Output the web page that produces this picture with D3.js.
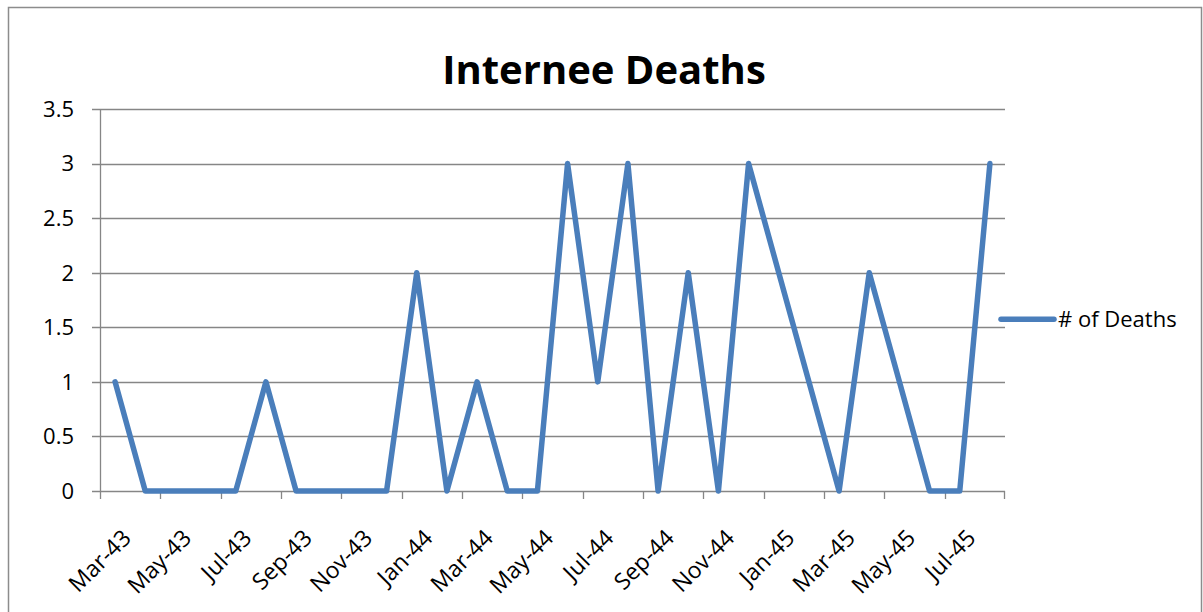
<!DOCTYPE html>
<html>
<head>
<meta charset="utf-8">
<script src="https://cdn.jsdelivr.net/npm/d3@7"></script>
<style>
  body { margin: 0; background: #fff; }
  svg { display: block; font-family: "Open Sans", "Noto Sans", sans-serif; }
</style>
</head>
<body>
<script>
// months on the date axis, one point per month
var months = ["Mar-43","Apr-43","May-43","Jun-43","Jul-43","Aug-43","Sep-43","Oct-43","Nov-43","Dec-43",
              "Jan-44","Feb-44","Mar-44","Apr-44","May-44","Jun-44","Jul-44","Aug-44","Sep-44","Oct-44",
              "Nov-44","Dec-44","Jan-45","Feb-45","Mar-45","Apr-45","May-45","Jun-45","Jul-45","Aug-45"];
var deaths = [1,0,0,0,0,1,0,0,0,0,
              2,0,1,0,0,3,1,3,0,2,
              0,3,2,1,0,2,1,0,0,3];
var yTicks = [0, 0.5, 1, 1.5, 2, 2.5, 3, 3.5];
var seriesName = "# of Deaths";
var chartTitle = "Internee Deaths";

var svg_width = 1203, svg_height = 612;
var svg = d3.select("body").append("svg").attr("width", svg_width).attr("height", svg_height);

// outer chart border
svg.append("rect")
    .attr("x", 8.5).attr("y", 7.5)
    .attr("width", 1193).attr("height", 620)
    .attr("fill", "none").attr("stroke", "#8c8c8c").attr("stroke-width", 1.5);

var plotLeft = 100, plotRight = 1005, plotTop = 109, plotBottom = 491;

var x = d3.scaleBand().domain(months).range([plotLeft, plotRight]).padding(0);
var y = d3.scaleLinear().domain([0, 3.5]).range([plotBottom, plotTop]);

// horizontal gridlines
svg.append("g").selectAll("line")
    .data(yTicks).enter().append("line")
    .attr("x1", plotLeft - 8).attr("x2", plotRight)
    .attr("y1", function(d) { return Math.round(y(d)) + 0.5; })
    .attr("y2", function(d) { return Math.round(y(d)) + 0.5; })
    .attr("stroke", "#868686").attr("stroke-width", 1.3);

// y axis line
svg.append("line")
    .attr("x1", plotLeft + 0.5).attr("x2", plotLeft + 0.5)
    .attr("y1", plotTop).attr("y2", plotBottom)
    .attr("stroke", "#868686").attr("stroke-width", 1.3);

svg.append("g").selectAll("text")
    .data(yTicks).enter().append("text")
    .attr("x", plotLeft - 26)
    .attr("y", function(d) { return y(d); })
    .attr("dy", "0.36em")
    .attr("text-anchor", "end")
    .attr("font-size", 22)
    .attr("fill", "#000")
    .text(function(d) { return d; });

// x axis ticks every two months plus end tick
var tickMonths = months.filter(function(m, i) { return i % 2 == 0; });
svg.append("g").selectAll("line")
    .data(tickMonths).enter().append("line")
    .attr("x1", function(d) { return Math.round(x(d)) + 0.5; })
    .attr("x2", function(d) { return Math.round(x(d)) + 0.5; })
    .attr("y1", plotBottom).attr("y2", plotBottom + 8)
    .attr("stroke", "#868686").attr("stroke-width", 1.3);
svg.append("line")
    .attr("x1", plotRight - 0.5).attr("x2", plotRight - 0.5)
    .attr("y1", plotBottom).attr("y2", plotBottom + 8)
    .attr("stroke", "#868686").attr("stroke-width", 1.3);

svg.append("g").selectAll("text")
    .data(tickMonths).enter().append("text")
    .attr("transform", function(d) {
        return "translate(" + (x(d) + x.bandwidth() / 2 + 6) + "," + (plotBottom + 37) + ") rotate(-45)";
    })
    .attr("text-anchor", "end")
    .attr("dy", "0.7em")
    .attr("font-size", 23)
    .attr("fill", "#000")
    .text(function(d) { return d; });

// the series line
var line = d3.line()
    .x(function(d, i) { return x(months[i]) + x.bandwidth() / 2; })
    .y(function(d) { return y(d); });

svg.append("path")
    .datum(deaths)
    .attr("fill", "none")
    .attr("stroke", "#4a7ebb")
    .attr("stroke-width", 5.5)
    .attr("stroke-linejoin", "round")
    .attr("stroke-linecap", "round")
    .attr("d", line);

// title
svg.append("text")
    .attr("x", 604).attr("y", 84)
    .attr("text-anchor", "middle")
    .attr("font-size", 40)
    .attr("font-weight", "bold")
    .attr("fill", "#000")
    .text(chartTitle);

// legend
var ly = y(1.5) - 8;
svg.append("line")
    .attr("x1", 1001).attr("x2", 1054)
    .attr("y1", ly).attr("y2", ly)
    .attr("stroke", "#4a7ebb").attr("stroke-width", 5.5)
    .attr("stroke-linecap", "round");
svg.append("text")
    .attr("x", 1058).attr("y", ly)
    .attr("dy", "0.36em")
    .attr("font-size", 22)
    .attr("fill", "#000")
    .text(seriesName);
</script>
</body>
</html>
